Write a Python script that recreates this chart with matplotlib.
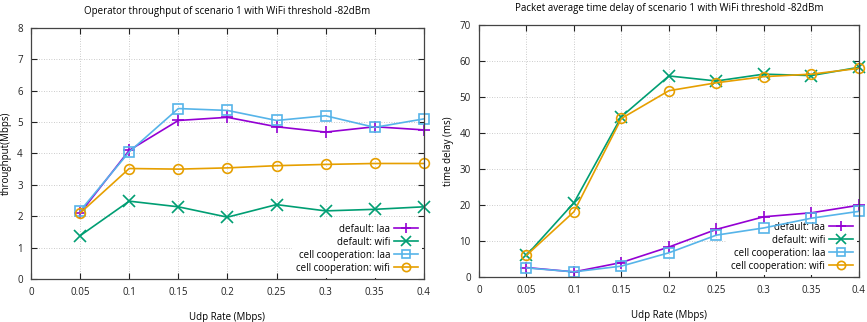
import matplotlib
matplotlib.use("Agg")
import matplotlib.pyplot as plt

# data
udp_rate = [0.05, 0.1, 0.15, 0.2, 0.25, 0.3, 0.35, 0.4]
series_names = ["default: laa", "default: wifi", "cell cooperation: laa", "cell cooperation: wifi"]

thr_default_laa = [2.1, 4.1, 5.05, 5.15, 4.85, 4.68, 4.85, 4.75]
thr_default_wifi = [1.38, 2.48, 2.3, 1.97, 2.37, 2.17, 2.22, 2.3]
thr_coop_laa = [2.17, 4.05, 5.43, 5.37, 5.05, 5.2, 4.83, 5.1]
thr_coop_wifi = [2.1, 3.52, 3.5, 3.54, 3.61, 3.65, 3.68, 3.68]

dly_default_laa = [2.6, 1.4, 4.0, 8.3, 13.2, 16.7, 17.8, 19.9]
dly_default_wifi = [6.0, 20.6, 44.5, 55.8, 54.4, 56.3, 55.9, 58.2]
dly_coop_laa = [2.5, 1.4, 3.0, 6.7, 11.6, 13.6, 16.3, 18.2]
dly_coop_wifi = [6.0, 18.1, 44.0, 51.7, 53.9, 55.6, 56.3, 57.9]

x_ticks = [0, 0.05, 0.1, 0.15, 0.2, 0.25, 0.3, 0.35, 0.4]
x_ticklabels = ["0", "0.05", "0.1", "0.15", "0.2", "0.25", "0.3", "0.35", "0.4"]

colors = ["#9400d3", "#009e73", "#56b4e9", "#e69f00"]
markers = ["+", "x", "s", "o"]

plt.rcParams['font.family'] = ['Open Sans', 'DejaVu Sans']
plt.rcParams['font.size'] = 7

fig = plt.figure(figsize=(8.67, 3.22), dpi=100)
ax1 = fig.add_axes([0.0358, 0.1335, 0.453, 0.78])
ax2 = fig.add_axes([0.5525, 0.14, 0.438, 0.783])


def draw(ax, ys, ymax, ystep, title, ylabel):
    ax.set_axisbelow(True)
    for y, c, m, name in zip(ys, colors, markers, series_names):
        ms = 7 if m in "so" else 9
        ax.plot(udp_rate, y, color=c, marker=m, markersize=ms, markerfacecolor='none',
                markeredgewidth=1.2, linewidth=1.2, label=name, clip_on=False, zorder=3)
    ax.set_xlim(0, 0.4)
    ax.set_ylim(0, ymax)
    ax.set_xticks(x_ticks)
    ax.set_xticklabels(x_ticklabels)
    ax.set_yticks(range(0, ymax + 1, ystep))
    ax.tick_params(direction='in', top=True, right=True, length=4, width=0.8,
                   colors='#222222', labelsize=7, pad=6)
    ax.grid(True, linestyle=(0, (1, 2)), color='#bbbbbb', linewidth=0.6)
    for s in ax.spines.values():
        s.set_color('#444444')
        s.set_linewidth(0.9)
        s.set_zorder(4)
    ax.set_title(title, fontsize=7, pad=10)
    ax.set_xlabel("Udp Rate (Mbps)", fontsize=7, labelpad=10)
    ax.set_ylabel(ylabel, fontsize=7)
    leg = ax.legend(loc='lower right', markerfirst=False, frameon=True, fontsize=7,
                    handlelength=2.5, borderaxespad=0.15, labelspacing=0.2,
                    handletextpad=0.4, markerscale=0.85)
    leg.get_frame().set_edgecolor('none')
    leg.get_frame().set_facecolor('white')
    leg.get_frame().set_alpha(1)
    leg.set_zorder(2.5)
    for t in leg.get_texts():
        t.set_ha('right')


draw(ax1, [thr_default_laa, thr_default_wifi, thr_coop_laa, thr_coop_wifi], 8, 1,
     "Operator throughput of scenario 1 with WiFi threshold -82dBm", "throughput(Mbps)")
draw(ax2, [dly_default_laa, dly_default_wifi, dly_coop_laa, dly_coop_wifi], 70, 10,
     "Packet average time delay of scenario 1 with WiFi threshold -82dBm", "time delay (ms)")

fig.savefig("out.png", dpi=100)
